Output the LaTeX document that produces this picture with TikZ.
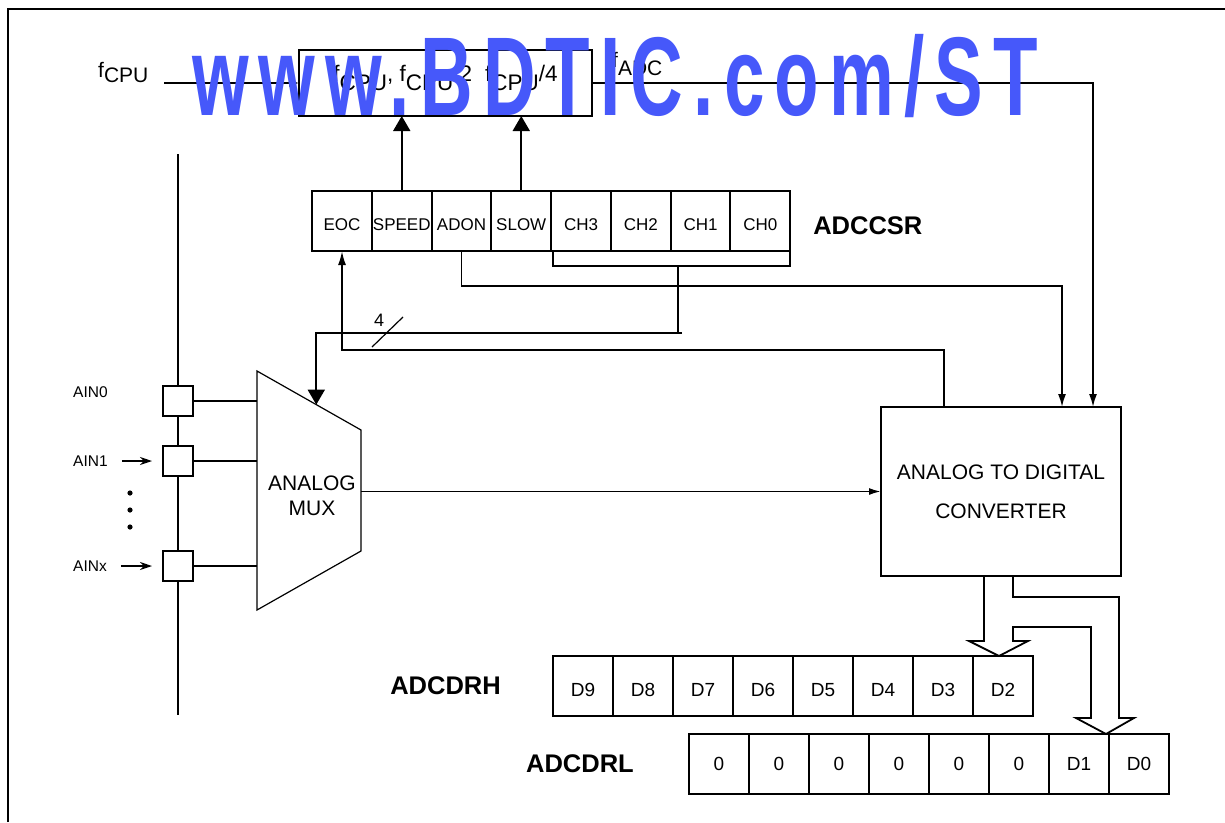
\documentclass[tikz,border=0pt]{standalone}
\usepackage{fontspec}
\setmainfont{Liberation Sans}
\newfontfamily\wmfont[LetterSpace=14]{Liberation Sans}
\usepackage{graphicx}
\usepackage{tikz}
\usetikzlibrary{positioning,arrows.meta,calc}

\definecolor{wmblue}{RGB}{70,88,250}
\newcommand{\fclk}[2][-6pt]{f\raisebox{#1}{#2}}

\tikzset{
  wire/.style={line width=1.8pt},
  thinwire/.style={line width=1.2pt},
  regcell/.style={draw,line width=1.8pt,outer sep=0pt,inner sep=0pt,minimum width=59.75pt,minimum height=60pt,text height=18pt,text depth=0pt,font=\fontsize{17}{20}\selectfont},
  datacell/.style={regcell,minimum width=60pt,text height=13.6pt,font=\fontsize{19}{22}\selectfont},
  pinbox/.style={draw,fill=white,line width=1.8pt,outer sep=0pt,minimum size=30pt,inner sep=0pt},
  regname/.style={inner sep=0pt,font=\fontsize{25.5}{30}\selectfont\bfseries},
  pinname/.style={inner sep=0pt,anchor=west,font=\fontsize{15.5}{18}\selectfont},
  clkname/.style={inner sep=0pt,anchor=base west,font=\fontsize{21}{24}\selectfont},
  smalltip/.style={-{Latex[length=13pt,width=8pt]}},
  bigtip/.style={-{Triangle[length=15pt,width=17pt]}},
  pintip/.style={-{Stealth[length=12pt,width=8pt]}},
}

\begin{document}
\begin{tikzpicture}[x=1pt,y=-1pt]
  \useasboundingbox (0,0) rectangle (1225,822);
  % frame
  \draw[line width=2pt] (8,822) -- (8,9) -- (1225,9);
  % clock prescaler
  \node[clkname] (fcpu) at (98,77) {\fclk[-5pt]{CPU}};
  \node[draw,line width=1.8pt,outer sep=0pt,minimum width=293pt,minimum height=66pt,text height=6.8pt,text depth=10pt,font=\fontsize{22.5}{26}\selectfont] (presc) at (445.5,83)
    {\fclk[-9pt]{CPU}, \fclk[-9pt]{CPU}/2\hspace{13pt}\fclk[-9pt]{CPU}/4};
  \node[clkname] (fadc) at (612,67) {\fclk[-8pt]{ADC}};
  \coordinate (cpuin) at (164,83);
  \draw[wire,-{Latex[length=10pt,width=8pt]}] (cpuin) -- (presc.west);
  % ADCCSR
  \foreach \n/\t [count=\i from 0] in {eoc/EOC,speed/SPEED,adon/ADON,slow/SLOW,ch3/CH3,ch2/CH2,ch1/CH1,ch0/CH0}
    \node[regcell] (\n) at ({342+59.75*\i},221) {\t};
  \node[regname,right=23pt of ch0,yshift=-4.5pt] (adccsr) {ADCCSR};
  % converter
  \node[draw,line width=1.8pt,outer sep=0pt,minimum width=240pt,minimum height=169pt,align=center,font=\fontsize{21}{39}\selectfont] (adc) at (1001,491.5) {ANALOG TO DIGITAL\\CONVERTER};
  % mux
  \coordinate (muxtl) at (257,371);
  \coordinate (muxtr) at (361,430);
  \coordinate (muxbr) at (361,551);
  \coordinate (muxbl) at (257,610);
  \draw[thinwire] (muxtl) -- (muxtr) -- (muxbr) -- (muxbl) -- cycle;
  \node[align=center,font=\fontsize{21}{25}\selectfont] (mux) at (312,496) {ANALOG\\MUX};
  \coordinate (muxsel) at ($(muxtl)!0.57!(muxtr)$);
  % analog inputs
  \draw[wire] (178,154) -- (178,715);
  \foreach \n/\y in {pin0/401,pin1/461,pinx/566}
    \node[pinbox] (\n) at (178,\y) {};
  \foreach \n in {pin0,pin1,pinx}
    \draw[wire] (\n.east) -- (\n.east -| muxtl);
  \node[pinname] (ain0) at (73,392) {AIN0};
  \node[pinname] (ain1) at (73,461) {AIN1};
  \node[pinname] (ainx) at (73,566) {AINx};
  \draw[wire,pintip] ([xshift=14pt]ain1.east) -- ([xshift=-11pt]pin1.west);
  \draw[wire,pintip] ([xshift=14pt]ainx.east) -- ([xshift=-11pt]pinx.west);
  \foreach \y in {493,510,527}
    \fill (130,\y) circle (2.6pt);
  % control lines
  \draw[wire,bigtip] (speed.north) -- (speed.north |- presc.south);
  \draw[wire,bigtip] (slow.north) -- (slow.north |- presc.south);
  \draw[wire,smalltip] (presc.east) -| ([xshift=-28pt]adc.north east);
  \draw[wire,smalltip] (adon.south) -- ++(0,35) -| ([xshift=-59pt]adc.north east);
  \draw[wire] ([xshift=2pt]ch3.south west) -- ++(0,15) -| (ch0.south east);
  \coordinate (chsel) at (678,266);
  \draw[wire] (chsel) -- (678,333);
  \draw[wire,bigtip] (682,333) -| (muxsel);
  \draw[thinwire] (372,347) -- (403,317);
  \node[inner sep=0pt,font=\fontsize{18}{20}\selectfont] (nbits) at (379,320) {4};
  \draw[wire,-{Latex[length=14pt,width=8pt]}] ([xshift=63pt]adc.north west) -- ++(0,-57) -| (eoc.south);
  \draw[wire,-{Latex[length=12pt,width=7pt]}] (adc.west -| muxbr) -- (adc.west);
  % data registers
  \foreach \n/\t [count=\i from 0] in {dh9/D9,dh8/D8,dh7/D7,dh6/D6,dh5/D5,dh4/D4,dh3/D3,dh2/D2}
    \node[datacell,text height=21.6pt] (\n) at ({583+60*\i},686) {\t};
  \foreach \t [count=\i from 0] in {0,0,0,0,0,0,D1,D0}
    \node[datacell] (dl\i) at ({719+60*\i},764) {\t};
  \node[regname,left=52pt of dh9] (adcdrh) {ADCDRH};
  \node[regname,left=55pt of dl0] (adcdrl) {ADCDRL};
  % result bus
  \draw[wire] ([xshift=-17pt]adc.south) -- (984,641) -- (969,641) -- (999,656) -- (1028,641) -- (1013,641)
    -- (1013,627) -- (1091,627) -- (1091,718) -- (1076,718) -- (1106,734) -- (1134,718) -- (1119,718)
    -- (1119,597) -- (1013,597) -- ([xshift=12pt]adc.south);
  % watermark
  \node[anchor=base west,inner sep=0pt,text=wmblue,font=\wmfont\bfseries\fontsize{112}{112}\selectfont] (wm) at (192,115) {\scalebox{0.65}[1]{www.BDTIC.com/ST}};
\end{tikzpicture}
\end{document}
